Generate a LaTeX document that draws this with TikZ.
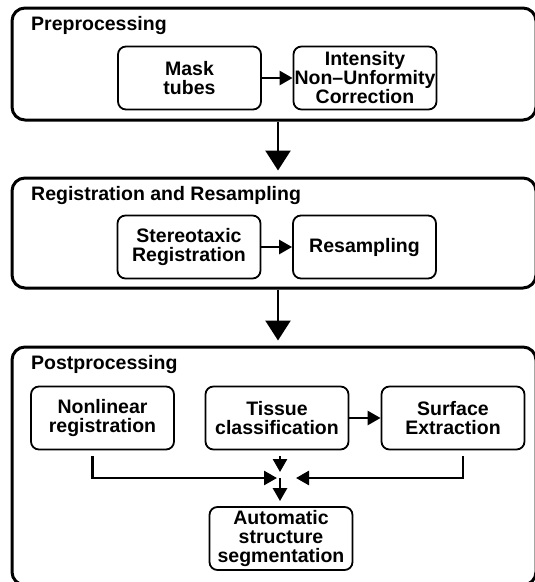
\documentclass[tikz,border=0pt]{standalone}
\usepackage{fontspec}
\setmainfont{Liberation Sans}
\usepackage{tikz}
\usetikzlibrary{arrows.meta}

\begin{document}
\begin{tikzpicture}[x=1pt,y=-1pt,
        stage/.style={draw,line width=3pt,rounded corners=13pt},
        task/.style={draw,line width=1.8pt,rounded corners=8pt,minimum width=143pt,minimum height=63pt,align=center,inner sep=1pt},
        title/.style={anchor=base west,inner sep=0pt},
        bigarrow/.style={line width=2.6pt,-{Triangle[length=20pt,width=25pt]}},
        smallarrow/.style={line width=2.6pt,-{Triangle[length=13pt,width=14pt]}},
        font=\bfseries\fontsize{19.5}{19}\selectfont]
        \clip (0,0) rectangle (535,582);
        % three stages
        \node[stage,minimum width=524pt,minimum height=112pt] (pre) at (274,64) {};
        \node[stage,minimum width=524pt,minimum height=110pt] (reg) at (274,233) {};
        \node[stage,minimum width=524pt,minimum height=238pt] (post) at (274,466) {};
        \node[title] (pretitle) at (31,30) {Preprocessing};
        \node[title] (regtitle) at (31,200) {Registration and Resampling};
        \node[title] (posttitle) at (31,369) {Postprocessing};
        % preprocessing
        \node[task] (mask) at (189.5,78) {Mask\\tubes};
        \node[task] (intens) at (365,78) {Intensity\\Non--Unformity\\Correction};
        \draw[smallarrow] (mask) -- (intens);
        % registration
        \node[task] (stereo) at (189,247) {Stereotaxic\\Registration};
        \node[task] (resamp) at (364.5,247) {Resampling};
        \draw[smallarrow] (stereo) -- (resamp);
        % postprocessing
        \node[task] (nonlin) at (102.5,418) {Nonlinear\\registration};
        \node[task] (tissue) at (277,418) {Tissue\\classification};
        \node[task] (surf) at (453,418) {Surface\\Extraction};
        \node[task] (seg) at (281,538.5) {Automatic\\structure\\segmentation};
        \draw[smallarrow] (tissue) -- (surf);
        \coordinate (junc) at (280,478);
        \draw[smallarrow] ([xshift=-10pt,yshift=-6pt]nonlin.south) |- ([xshift=-3pt]junc);
        \draw[smallarrow] ([xshift=10pt,yshift=-6pt]surf.south) |- ([xshift=16pt]junc);
        \draw[smallarrow] ([xshift=3pt,yshift=-6pt]tissue.south) -- ([yshift=6pt]junc);
        \draw[smallarrow,shorten >=5pt] (junc) -- (junc |- seg.north);
        % between stages
        \draw[bigarrow,shorten >=6pt] ([xshift=4pt]pre.south) -- ([xshift=4pt]reg.north);
        \draw[bigarrow,shorten >=5pt] ([xshift=4pt]reg.south) -- ([xshift=4pt]post.north);
\end{tikzpicture}
\end{document}
